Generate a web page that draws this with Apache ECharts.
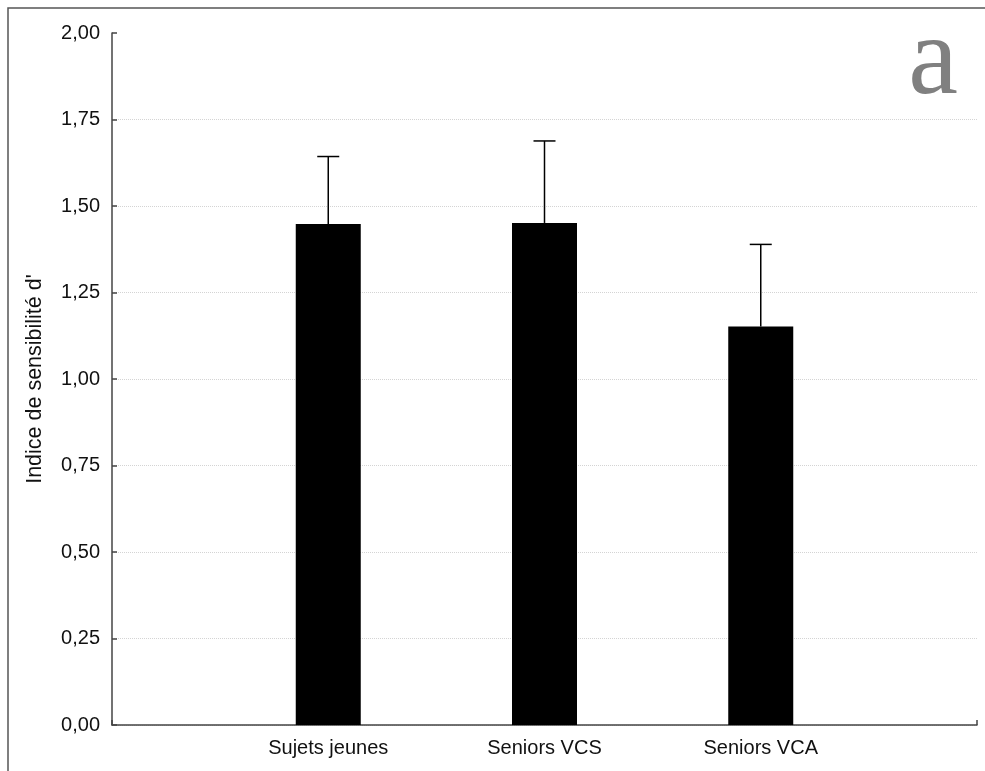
<!DOCTYPE html>
<html><head><meta charset="utf-8">
<script src="https://cdn.jsdelivr.net/npm/echarts@6/dist/echarts.min.js"></script>
<style>html,body{margin:0;padding:0;background:#fff;}#c{width:985px;height:771px;}</style>
</head><body><div id="c"></div>
<script>
var categories = ['Sujets jeunes', 'Seniors VCS', 'Seniors VCA'];
var positions = [1, 2, 3];
var means = [1.448, 1.451, 1.152];
var errorTops = [1.643, 1.688, 1.389];
var yTicks = [0, 0.25, 0.5, 0.75, 1, 1.25, 1.5, 1.75, 2];

var chart = echarts.init(document.getElementById('c'));
var barData = positions.map(function(p, i){ return [p, means[i]]; });
var errData = positions.map(function(p, i){ return [p, means[i], errorTops[i]]; });
var gridColors = yTicks.map(function(t, i){ return i === yTicks.length - 1 ? 'rgba(0,0,0,0)' : '#d4d4d4'; });
var FONT = '"Liberation Sans", Arial, sans-serif';

chart.setOption({
  animation: false,
  backgroundColor: '#fff',
  grid: {left: 112, right: 8, top: 33, bottom: 46},
  graphic: [
    {type: 'polyline', shape: {points: [[8, 771], [8, 8], [985, 8]]}, style: {stroke: '#555', lineWidth: 1.5, fill: null}, silent: true},
    {type: 'text', right: 27, top: 8, style: {text: 'a', font: '112px "Liberation Serif", "DejaVu Serif", serif', fill: '#808080'}}
  ],
  xAxis: {
    type: 'value', min: 0, max: 4, interval: 1,
    axisLine: {show: true, lineStyle: {color: '#444', width: 1.5}},
    axisTick: {show: true, inside: true, length: 5, lineStyle: {color: '#444', width: 1.5}},
    splitLine: {show: false},
    axisLabel: {
      fontFamily: FONT, fontSize: 20, color: '#111', margin: 13,
      formatter: function(v){ var i = positions.indexOf(v); return i >= 0 ? categories[i] : ''; }
    }
  },
  yAxis: {
    type: 'value', min: 0, max: 2, interval: 0.25,
    name: "Indice de sensibilité d'", nameLocation: 'middle', nameGap: 66,
    nameTextStyle: {fontFamily: FONT, fontSize: 21.5, color: '#111'},
    axisLine: {show: true, lineStyle: {color: '#444', width: 1.5}},
    axisTick: {show: true, inside: true, length: 5, lineStyle: {color: '#444', width: 1.5}},
    splitLine: {show: true, lineStyle: {color: gridColors, type: 'dotted', width: 1}},
    axisLabel: {
      fontFamily: FONT, fontSize: 20, color: '#111', margin: 12,
      formatter: function(v){ return v.toFixed(2).replace('.', ','); }
    }
  },
  series: [
    {type: 'bar', data: barData, barWidth: 65, itemStyle: {color: '#000'}, z: 3},
    {type: 'custom', z: 4, data: errData,
      renderItem: function(params, api){
        var x = api.value(0);
        var p0 = api.coord([x, api.value(1)]);
        var p1 = api.coord([x, api.value(2)]);
        var hw = 11;
        return {type: 'group', children: [
          {type: 'line', shape: {x1: p0[0], y1: p0[1], x2: p1[0], y2: p1[1]}, style: {stroke: '#000', lineWidth: 1.5}},
          {type: 'line', shape: {x1: p1[0] - hw, y1: p1[1], x2: p1[0] + hw, y2: p1[1]}, style: {stroke: '#000', lineWidth: 1.5}}
        ]};
      }
    }
  ]
});
</script></body></html>
